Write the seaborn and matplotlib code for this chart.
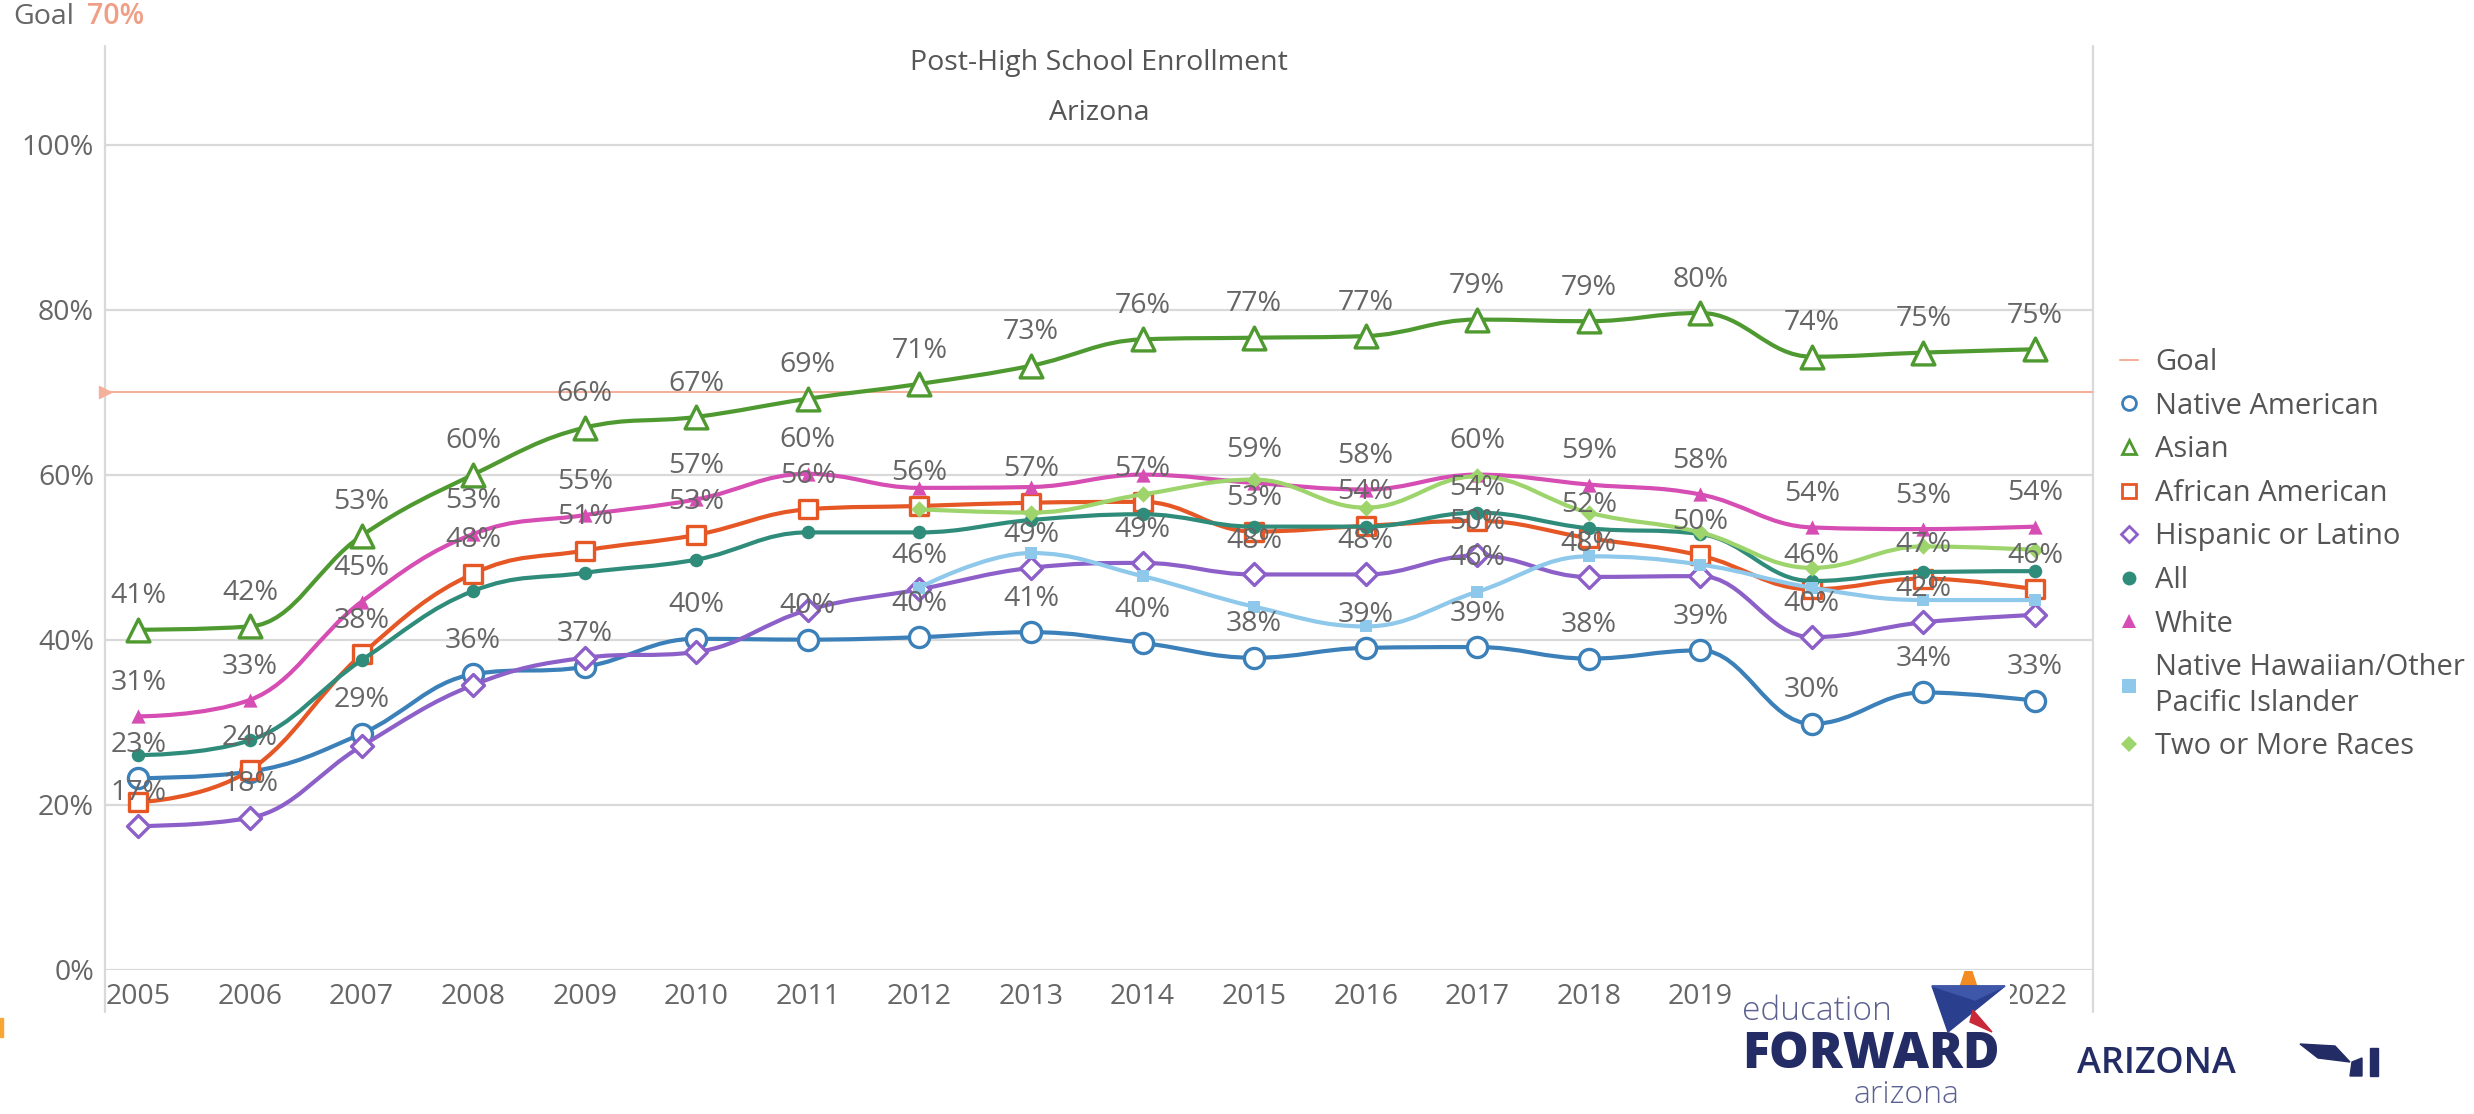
import numpy as np
import pandas as pd
import matplotlib.pyplot as plt
import seaborn as sns
from matplotlib.path import Path
from matplotlib.patches import PathPatch, Polygon, Rectangle
from matplotlib.lines import Line2D

nan = np.nan

# data (percent enrolled)
years = ["2005", "2006", "2007", "2008", "2009", "2010", "2011", "2012", "2013",
         "2014", "2015", "2016", "2017", "2018", "2019", "2020", "2021", "2022"]
goal = 70

native_american = [23.2, 24.0, 28.6, 35.8, 36.7, 40.1, 40.0, 40.3, 40.9,
                   39.6, 37.8, 39.0, 39.1, 37.7, 38.7, 29.8, 33.6, 32.6]
asian = [41.2, 41.6, 52.6, 60.0, 65.7, 67.0, 69.2, 71.0, 73.2,
         76.4, 76.6, 76.8, 78.8, 78.6, 79.6, 74.3, 74.8, 75.2]
african_american = [20.3, 24.2, 38.2, 48.0, 50.8, 52.7, 55.8, 56.2, 56.6,
                     56.7, 53.1, 53.8, 54.4, 52.3, 50.2, 46.1, 47.4, 46.1]
hispanic = [17.4, 18.4, 27.1, 34.5, 37.8, 38.5, 43.6, 46.1, 48.7,
            49.3, 47.9, 47.9, 50.2, 47.6, 47.7, 40.3, 42.1, 43.0]
all_students = [26.0, 27.8, 37.5, 45.9, 48.1, 49.7, 53.0, 53.0, 54.5,
                55.2, 53.7, 53.7, 55.4, 53.5, 52.8, 47.1, 48.2, 48.3]
white = [30.7, 32.7, 44.6, 52.8, 55.1, 57.0, 60.1, 58.4, 58.5,
         60.0, 59.0, 58.2, 60.0, 58.8, 57.6, 53.6, 53.4, 53.7]
nhpi = [nan, nan, nan, nan, nan, nan, nan, 46.3, 50.5,
        47.7, 44.0, 41.6, 45.8, 50.1, 49.1, 46.3, 44.8, 44.8]
two_or_more = [nan, nan, nan, nan, nan, nan, nan, 55.8, 55.4,
               57.6, 59.4, 56.0, 59.8, 55.4, 53.0, 48.7, 51.3, 50.9]

series = [
    ("Native American", native_american),
    ("Asian", asian),
    ("African American", african_american),
    ("Hispanic or Latino", hispanic),
    ("All", all_students),
    ("White", white),
    ("Native Hawaiian/Other\nPacific Islander", nhpi),
    ("Two or More Races", two_or_more),
]

# color, marker, marker size, open marker?
styles = {
    "Native American": ("#3b80b9", "o", 210, True),
    "Asian": ("#4f9a30", "^", 270, True),
    "African American": ("#e65726", "s", 175, True),
    "Hispanic or Latino": ("#8c60c8", "D", 125, True),
    "All": ("#2f8c7b", "o", 95, False),
    "White": ("#d64db3", "^", 105, False),
    "Native Hawaiian/Other\nPacific Islander": ("#8ec8eb", "s", 85, False),
    "Two or More Races": ("#9dd46c", "D", 70, False),
}
goal_color = "#f4b09b"
text_color = "#666666"
fs = 20.5


def spline_path(xs, ys, smoothing=1.5):
    # highcharts-like spline between the points
    n = len(xs)
    lc, rc = [], []
    for i in range(n):
        x, y = xs[i], ys[i]
        if 0 < i < n - 1:
            px, py = xs[i - 1], ys[i - 1]
            nx, ny = xs[i + 1], ys[i + 1]
            d = smoothing + 1
            lcx, lcy = (smoothing * x + px) / d, (smoothing * y + py) / d
            rcx, rcy = (smoothing * x + nx) / d, (smoothing * y + ny) / d
            corr = (rcy - lcy) * (rcx - x) / (rcx - lcx) + y - rcy
            lcy += corr
            rcy += corr
            if lcy > py and lcy > y:
                lcy = max(py, y); rcy = 2 * y - lcy
            elif lcy < py and lcy < y:
                lcy = min(py, y); rcy = 2 * y - lcy
            if rcy > ny and rcy > y:
                rcy = max(ny, y); lcy = 2 * y - rcy
            elif rcy < ny and rcy < y:
                rcy = min(ny, y); lcy = 2 * y - rcy
            lc.append((lcx, lcy)); rc.append((rcx, rcy))
        else:
            lc.append((x, y)); rc.append((x, y))
    verts = [(xs[0], ys[0])]
    codes = [Path.MOVETO]
    for i in range(1, n):
        verts += [rc[i - 1], lc[i], (xs[i], ys[i])]
        codes += [Path.CURVE4] * 3
    return Path(verts, codes)


sns.set_theme(style="white")
plt.rcParams["font.family"] = ["Open Sans", "DejaVu Sans"]

fig = plt.figure(figsize=(24.74, 11.14), dpi=100)
ax = fig.add_axes([105 / 2474, 1 - 969.6 / 1114, 1988 / 2474, 923.9 / 1114])
ax.set_xlim(-0.30, 17.52)
ax.set_ylim(0, 112)
for s in ax.spines.values():
    s.set_visible(False)

yticks = [0, 20, 40, 60, 80, 100]
for t in yticks:
    ax.axhline(t, color="#d9d9d9", lw=1.6, zorder=0)
for xa in [0, 1]:
    ax.plot([xa, xa], [-0.046, 1], transform=ax.transAxes, color="#d9d9d9",
            lw=1.6, clip_on=False, zorder=0)

# goal line
ax.axhline(goal, color=goal_color, lw=1.5, zorder=1)
ax.plot([-0.30], [goal], marker=">", ms=9, color=goal_color, clip_on=False, zorder=2)

xpos = np.arange(len(years))
for k, (name, vals) in enumerate(series):
    col, mk, size, hollow = styles[name]
    v = np.array(vals, dtype=float)
    ok = ~np.isnan(v)
    path = spline_path(xpos[ok].astype(float), v[ok])
    ax.add_patch(PathPatch(path, facecolor="none", edgecolor=col, lw=3.0,
                           capstyle="round", zorder=3 + k))
    sns.scatterplot(x=xpos[ok], y=v[ok], marker=mk, s=size,
                    color="white" if hollow else col, edgecolor=col,
                    linewidth=2.4 if hollow else 0, ax=ax, zorder=3.5 + k,
                    legend=False)

# data labels, skipping those that would collide with one already drawn
placed = {i: [] for i in range(len(years))}
for name, vals in series:
    for i, v in enumerate(vals):
        if np.isnan(v):
            continue
        if any(abs(v - p) < 4.1 for p in placed[i]):
            continue
        placed[i].append(v)
        ax.annotate(f"{v:.0f}%", (i, v), xytext=(0, 24), textcoords="offset points",
                    ha="center", va="center", fontsize=fs, color=text_color, zorder=20)

ax.set_xticks(xpos)
ax.set_xticklabels(years)
ax.set_yticks(yticks)
ax.set_yticklabels([f"{t}%" for t in yticks])
ax.tick_params(axis="both", length=0, labelsize=fs, labelcolor=text_color)
ax.tick_params(axis="x", pad=10)
ax.tick_params(axis="y", pad=8)
ax.set_xlabel("")
ax.set_ylabel("")
# 2020 and 2021 sit under the logo
for lab in ax.get_xticklabels():
    if lab.get_text() in ("2020", "2021"):
        lab.set_visible(False)

fig.text(1099 / 2474, 1 - 63 / 1114, "Post-High School Enrollment", ha="center",
         va="center", fontsize=fs, color="#555555")
fig.text(1099 / 2474, 1 - 113 / 1114, "Arizona", ha="center", va="center",
         fontsize=fs, color="#555555")
fig.text(13 / 2474, 1 - 17 / 1114, "Goal", ha="left", va="center", fontsize=fs,
         color=text_color)
fig.text(87 / 2474, 1 - 17 / 1114, f"{goal}%", ha="left", va="center", fontsize=fs,
         color="#ef9f86", weight="semibold")

# legend
handles = [Line2D([], [], color=goal_color, lw=1.5)]
labels = ["Goal"]
for name, vals in series:
    col, mk, size, hollow = styles[name]
    handles.append(Line2D([], [], linestyle="none", marker=mk, markersize=10 if mk != "D" else 8.5,
                          markerfacecolor="white" if hollow else col,
                          markeredgecolor=col, markeredgewidth=2 if hollow else 0))
    labels.append(name)
leg = ax.legend(handles, labels, loc="upper left", bbox_to_anchor=(2120 / 2474, 1 - 348 / 1114),
                bbox_transform=fig.transFigure, frameon=False, fontsize=21,
                handlelength=0.6, handletextpad=0.6, labelspacing=0.5,
                borderpad=0, borderaxespad=0, labelcolor="#555555")
for t in leg.get_texts():
    t.set_linespacing(1.3)

# logo block at the bottom right
lg = fig.add_axes([1742 / 2474, 0, 268 / 2474, 143 / 1114])
lg.set_xlim(1742, 2010)
lg.set_ylim(1114, 971)
lg.set_facecolor("white")
lg.set_xticks([])
lg.set_yticks([])
for s in lg.spines.values():
    s.set_visible(False)
lg.text(1742, 1011, "education", ha="left", va="center", fontsize=24,
        color="#5b6190", weight="light")
lg.add_patch(Polygon([(1960, 987), (1968.5, 961), (1977, 987)], color="#f28c22"))
lg.add_patch(Polygon([(1932, 986), (2005, 986), (1948, 1032)], color="#2b3f8f"))
lg.add_patch(Polygon([(1932, 986), (2005, 986), (1975, 1000)], color="#3e57a8"))
lg.add_patch(Polygon([(1973, 1010), (1992, 1032), (1970, 1022)], color="#c8283a"))
lg.text(1742, 1055, "FORWARD", ha="left", va="center", fontsize=36,
        color="#232c64", weight="heavy")
lg.text(1906, 1095, "arizona", ha="center", va="center", fontsize=23,
        color="#5b6190", weight="light")

fig.text(2077 / 2474, 1 - 1064 / 1114, "ARIZONA", ha="left", va="center",
         fontsize=26, color="#232c64", weight="semibold")
fig.add_artist(Polygon([(2300 / 2474, 1 - 1044 / 1114), (2335 / 2474, 1 - 1046 / 1114),
                        (2350 / 2474, 1 - 1062 / 1114), (2318 / 2474, 1 - 1058 / 1114)],
                       transform=fig.transFigure, color="#232c64"))
fig.add_artist(Polygon([(2352 / 2474, 1 - 1062 / 1114), (2362 / 2474, 1 - 1058 / 1114),
                        (2362 / 2474, 1 - 1076 / 1114), (2350 / 2474, 1 - 1076 / 1114)],
                       transform=fig.transFigure, color="#232c64"))
fig.add_artist(Rectangle((2370 / 2474, 1 - 1076 / 1114), 8 / 2474, 28 / 1114,
                         transform=fig.transFigure, color="#232c64"))
fig.add_artist(Rectangle((0, 1 - 1037 / 1114), 3 / 2474, 19 / 1114,
                         transform=fig.transFigure, color="#f7a535"))

fig.savefig("out.png", dpi=100, facecolor="white")
